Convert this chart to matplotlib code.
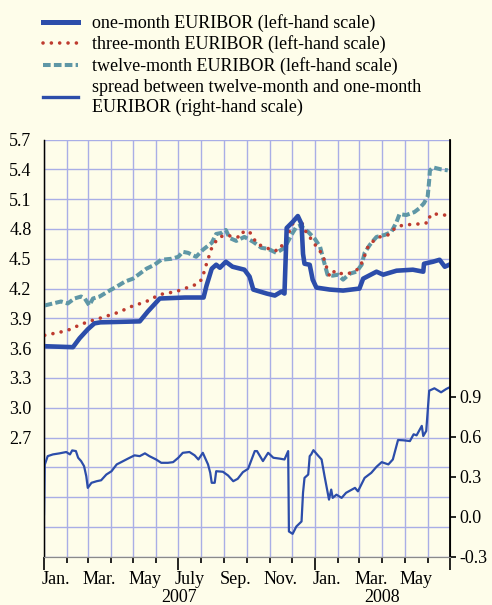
import matplotlib
matplotlib.use("Agg")
import matplotlib.pyplot as plt
from matplotlib.lines import Line2D
import pandas as pd

plt.rcParams['font.family'] = ['Liberation Serif', 'DejaVu Serif']

# one-month EURIBOR (left-hand scale)
one_m_dates = ["2007-01-01", "2007-02-09", "2007-02-18", "2007-03-01", "2007-03-10", "2007-03-18",
               "2007-05-10", "2007-05-21", "2007-06-06", "2007-07-10", "2007-08-04", "2007-08-08",
               "2007-08-15", "2007-08-21", "2007-08-26", "2007-09-03", "2007-09-12", "2007-09-28",
               "2007-10-05", "2007-10-10", "2007-10-28", "2007-11-08", "2007-11-17", "2007-11-21",
               "2007-11-24", "2007-12-02", "2007-12-09", "2007-12-14", "2007-12-16", "2007-12-18",
               "2007-12-25", "2007-12-29", "2008-01-03", "2008-01-21", "2008-02-08", "2008-03-01",
               "2008-03-06", "2008-03-24", "2008-04-02", "2008-04-20", "2008-05-12", "2008-05-26",
               "2008-05-27", "2008-06-08", "2008-06-17", "2008-06-24", "2008-06-30"]
one_m = [3.62, 3.61, 3.70, 3.79, 3.85, 3.86,
         3.87, 3.97, 4.10, 4.11, 4.11, 4.23,
         4.40, 4.44, 4.41, 4.47, 4.42, 4.39,
         4.32, 4.19, 4.15, 4.13, 4.17, 4.15,
         4.81, 4.87, 4.93, 4.85, 4.55, 4.45,
         4.44, 4.29, 4.21, 4.19, 4.18, 4.20,
         4.30, 4.37, 4.34, 4.38, 4.39, 4.37,
         4.45, 4.47, 4.49, 4.42, 4.44]

# three-month EURIBOR (left-hand scale)
three_m_dates = ["2007-01-02", "2007-01-22", "2007-02-02", "2007-02-20", "2007-03-03", "2007-03-21",
                 "2007-04-11", "2007-04-29", "2007-05-19", "2007-06-06", "2007-06-28", "2007-07-17",
                 "2007-07-28", "2007-08-02", "2007-08-08", "2007-08-15", "2007-08-20", "2007-08-26",
                 "2007-09-04", "2007-09-13", "2007-09-24", "2007-09-27", "2007-10-06", "2007-10-15",
                 "2007-10-28", "2007-11-06", "2007-11-15", "2007-11-19", "2007-11-26", "2007-11-28",
                 "2007-12-02", "2007-12-09", "2007-12-16", "2007-12-20", "2007-12-25", "2007-12-30",
                 "2008-01-05", "2008-01-12", "2008-01-15", "2008-01-18", "2008-01-21", "2008-01-28",
                 "2008-02-06", "2008-02-15", "2008-02-25", "2008-03-01", "2008-03-06", "2008-03-13",
                 "2008-03-20", "2008-03-28", "2008-04-07", "2008-04-15", "2008-04-23", "2008-05-03",
                 "2008-05-14", "2008-05-25", "2008-06-03", "2008-06-04", "2008-06-13", "2008-06-23",
                 "2008-06-27"]
three_m = [3.73, 3.76, 3.78, 3.84, 3.87, 3.91,
           3.96, 4.02, 4.07, 4.14, 4.17, 4.22,
           4.25, 4.30, 4.45, 4.61, 4.67, 4.72,
           4.74, 4.72, 4.72, 4.78, 4.76, 4.65,
           4.61, 4.58, 4.59, 4.66, 4.72, 4.79,
           4.85, 4.92, 4.84, 4.77, 4.72, 4.66,
           4.61, 4.53, 4.45, 4.39, 4.32, 4.38,
           4.35, 4.35, 4.38, 4.41, 4.49, 4.63,
           4.68, 4.72, 4.73, 4.79, 4.83, 4.84,
           4.85, 4.85, 4.87, 4.94, 4.95, 4.94,
           4.94]

# twelve-month EURIBOR (left-hand scale)
twelve_m_dates = ["2007-01-02", "2007-01-13", "2007-01-24", "2007-02-02", "2007-02-11", "2007-02-20",
                  "2007-02-25", "2007-03-03", "2007-03-08", "2007-03-17", "2007-03-28", "2007-04-09",
                  "2007-04-20", "2007-05-01", "2007-05-10", "2007-05-19", "2007-05-30", "2007-06-08",
                  "2007-06-22", "2007-07-01", "2007-07-07", "2007-07-14", "2007-07-25", "2007-08-03",
                  "2007-08-15", "2007-08-21", "2007-08-28", "2007-09-03", "2007-09-08", "2007-09-17",
                  "2007-09-28", "2007-10-10", "2007-10-21", "2007-10-30", "2007-11-10", "2007-11-21",
                  "2007-12-02", "2007-12-07", "2007-12-14", "2007-12-16", "2007-12-23", "2008-01-01",
                  "2008-01-08", "2008-01-14", "2008-01-18", "2008-01-25", "2008-02-01", "2008-02-08",
                  "2008-02-17", "2008-02-26", "2008-03-04", "2008-03-08", "2008-03-15", "2008-03-24",
                  "2008-04-04", "2008-04-13", "2008-04-20", "2008-04-24", "2008-05-03", "2008-05-14",
                  "2008-05-21", "2008-05-27", "2008-06-01", "2008-06-03", "2008-06-04", "2008-06-08",
                  "2008-06-19", "2008-06-28"]
twelve_m = [4.03, 4.05, 4.07, 4.05, 4.10, 4.12,
            4.10, 4.03, 4.10, 4.12, 4.17, 4.22,
            4.27, 4.30, 4.35, 4.40, 4.44, 4.49,
            4.50, 4.52, 4.57, 4.56, 4.52, 4.59,
            4.66, 4.75, 4.76, 4.79, 4.71, 4.68,
            4.72, 4.67, 4.61, 4.60, 4.56, 4.61,
            4.76, 4.82, 4.84, 4.81, 4.77, 4.70,
            4.62, 4.45, 4.34, 4.33, 4.34, 4.29,
            4.35, 4.37, 4.44, 4.56, 4.64, 4.72,
            4.74, 4.77, 4.87, 4.95, 4.94, 4.97,
            5.01, 5.06, 5.13, 5.29, 5.39, 5.42,
            5.40, 5.39]

# spread between twelve-month and one-month EURIBOR (right-hand scale)
spread_dates = ["2007-01-01", "2007-01-02", "2007-01-06", "2007-01-13", "2007-01-22", "2007-01-31",
                "2007-02-05", "2007-02-08", "2007-02-13", "2007-02-16", "2007-02-20", "2007-02-24",
                "2007-02-27", "2007-03-01", "2007-03-06", "2007-03-13", "2007-03-19", "2007-03-26",
                "2007-04-02", "2007-04-09", "2007-04-15", "2007-04-24", "2007-05-03", "2007-05-10",
                "2007-05-17", "2007-05-23", "2007-06-01", "2007-06-08", "2007-06-17", "2007-06-24",
                "2007-07-01", "2007-07-07", "2007-07-16", "2007-07-23", "2007-07-28", "2007-08-03",
                "2007-08-07", "2007-08-10", "2007-08-13", "2007-08-15", "2007-08-19", "2007-08-21",
                "2007-08-30", "2007-09-06", "2007-09-13", "2007-09-19", "2007-09-26", "2007-10-03",
                "2007-10-12", "2007-10-15", "2007-10-23", "2007-10-30", "2007-11-06", "2007-11-15",
                "2007-11-21", "2007-11-26", "2007-11-27", "2007-12-02", "2007-12-07", "2007-12-14",
                "2007-12-16", "2007-12-18", "2007-12-23", "2007-12-25", "2007-12-27", "2007-12-30",
                "2008-01-05", "2008-01-10", "2008-01-14", "2008-01-17", "2008-01-20", "2008-01-23",
                "2008-01-25", "2008-01-30", "2008-02-06", "2008-02-12", "2008-02-24", "2008-02-28",
                "2008-03-08", "2008-03-17", "2008-03-24", "2008-03-31", "2008-04-09", "2008-04-15",
                "2008-04-22", "2008-04-29", "2008-05-08", "2008-05-13", "2008-05-17", "2008-05-24",
                "2008-05-26", "2008-05-30", "2008-06-03", "2008-06-10", "2008-06-19", "2008-06-26",
                "2008-06-30"]
spread = [0.02, 0.39, 0.455, 0.468, 0.476, 0.486,
          0.468, 0.498, 0.493, 0.443, 0.418, 0.38,
          0.304, 0.217, 0.255, 0.267, 0.274, 0.317,
          0.342, 0.393, 0.41, 0.436, 0.461, 0.455,
          0.476, 0.455, 0.43, 0.405, 0.405, 0.41,
          0.443, 0.48, 0.486, 0.461, 0.43, 0.48,
          0.43, 0.393, 0.33, 0.255, 0.255, 0.342,
          0.338, 0.31, 0.267, 0.285, 0.335, 0.36,
          0.493, 0.493, 0.418, 0.48, 0.443, 0.436,
          0.43, 0.493, -0.11, -0.128, -0.073, -0.035,
          0.18, 0.292, 0.317, 0.455, 0.468, 0.50,
          0.461, 0.43, 0.305, 0.217, 0.129, 0.204,
          0.142, 0.166, 0.142, 0.18, 0.217, 0.191,
          0.292, 0.33, 0.375, 0.41, 0.393, 0.43,
          0.576, 0.574, 0.568, 0.619, 0.611, 0.682,
          0.606, 0.644, 0.946, 0.964, 0.934, 0.959,
          0.97]

month_labels = ["Jan.", "Mar.", "May", "July", "Sep.", "Nov.", "Jan.", "Mar.", "May"]
year_labels = ["2007", "2008"]

bg = "#FEFDEA"
grid_col = "#A9AEE6"
blue = "#2C4DAA"
red = "#BE3B2F"
teal = "#5F97A6"

fig = plt.figure(figsize=(4.92, 6.05), dpi=100, facecolor=bg)
ax = fig.add_axes([0.0894, 0.0797, 0.8252, 0.6896], facecolor=bg)
ax2 = ax.twinx()

dots = (0, (0.01, 2.3))
dashes = (0, (1.9, 0.8))

ax.plot(pd.to_datetime(twelve_m_dates), twelve_m, color=teal, lw=2.9,
        linestyle=dashes, dash_capstyle="butt", zorder=3)
ax.plot(pd.to_datetime(three_m_dates), three_m, color=red, lw=2.6,
        linestyle=dots, dash_capstyle="round", zorder=4)
ax.plot(pd.to_datetime(one_m_dates), one_m, color=blue, lw=3.3, zorder=5,
        solid_joinstyle="round")
ax2.plot(pd.to_datetime(spread_dates), spread, color=blue, lw=1.6)

x0 = pd.Timestamp("2007-01-01")
x1 = pd.Timestamp("2008-07-01")
ax.set_xlim(x0, x1)
ax.set_ylim(1.5, 5.7)
ax2.set_ylim(-0.3, 2.83)

# left axis: grid every 0.3, labels only from 2.7 up
yt = [round(1.5 + 0.3 * i, 1) for i in range(15)]
ax.set_yticks(yt)
ax.set_yticklabels([f"{v:.1f}" if v >= 2.65 else "" for v in yt], fontsize=13)
ax.tick_params(axis="y", length=0, pad=9)

rt = [-0.3, 0.0, 0.3, 0.6, 0.9]
ax2.set_yticks(rt)
ax2.set_yticklabels([f"{v:.1f}" for v in rt], fontsize=13)
ax2.tick_params(axis="y", length=4, width=1.2, color="black", pad=3)

# months: grid at every month start, longer ticks at Jan and July
months = pd.date_range(x0, x1, freq="MS")
major = [m for m in months if m.month in (1, 7)]
minor = [m for m in months if m.month not in (1, 7)]
ax.set_xticks(major)
ax.set_xticks(minor, minor=True)
ax.set_xticklabels([])
ax.tick_params(axis="x", which="major", length=9, width=1.2, color="black")
ax.tick_params(axis="x", which="minor", length=4, width=1.2, color="black")
ax.grid(True, which="both", axis="x", color=grid_col, lw=1)
ax.grid(True, which="major", axis="y", color=grid_col, lw=1)
ax.set_axisbelow(True)

trans = ax.get_xaxis_transform()
label_months = months[:-1][::2]
for m, lab in zip(label_months, month_labels):
    mid = m + (m + pd.offsets.MonthBegin(1) - m) / 2
    ax.text(mid, -0.035, lab, transform=trans, ha="center", va="top", fontsize=13)
for yr, lab in zip([("2007-01-01", "2008-01-01"), ("2008-01-01", "2008-07-01")], year_labels):
    a, b = pd.Timestamp(yr[0]), pd.Timestamp(yr[1])
    ax.text(a + (b - a) / 2, -0.078, lab, transform=trans, ha="center", va="top", fontsize=13)

for a in (ax, ax2):
    a.spines["top"].set_visible(False)
    a.spines["left"].set_color("black")
    a.spines["right"].set_color("black")
    a.spines["bottom"].set_color("#8A8A8A")
ax2.spines["right"].set_linewidth(1.3)
ax.spines["left"].set_linewidth(1.0)

handles = [
    Line2D([], [], color=blue, lw=3.6),
    Line2D([], [], color=red, lw=2.6, linestyle=dots, dash_capstyle="round"),
    Line2D([], [], color=teal, lw=2.9, linestyle=dashes),
    Line2D([], [], color=blue, lw=2.4),
]
labels = [
    "one-month EURIBOR (left-hand scale)",
    "three-month EURIBOR (left-hand scale)",
    "twelve-month EURIBOR (left-hand scale)",
    "spread between twelve-month and one-month\nEURIBOR (right-hand scale)",
]
fig.legend(handles, labels, loc="upper left", bbox_to_anchor=(43 / 492, 1 - 14 / 605),
           frameon=False, fontsize=13, handlelength=1.95, handletextpad=0.75,
           labelspacing=0.2, borderaxespad=0, borderpad=0)

fig.savefig("out.png", dpi=100, facecolor=bg)
